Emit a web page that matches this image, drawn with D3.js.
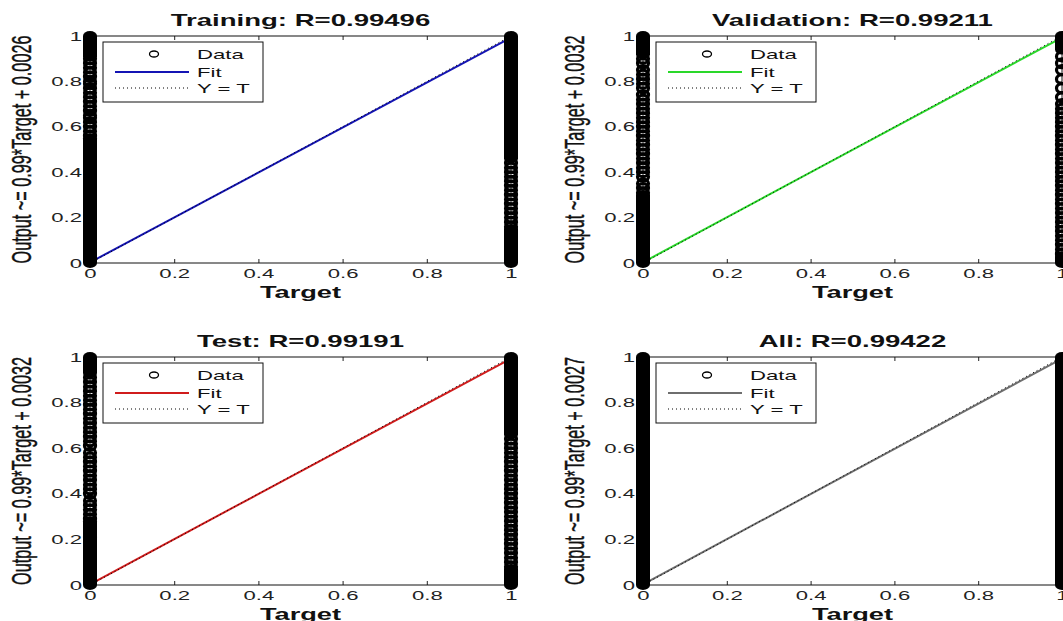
<!DOCTYPE html>
<html lang="en">
<head>
    <meta charset="UTF-8">
    <title>Regression plots</title>
    <script src="https://cdn.jsdelivr.net/npm/d3@7"></script>
    <style>
        body {
            margin: 0;
            background: #fff;
        }
        svg text {
            font-family: "Liberation Sans", Arial, sans-serif;
            fill: #111;
        }
        .tick text {
            font-size: 13px;
            fill: #222;
        }
    </style>
</head>
<body>
<div id="chart"></div>

<script>
    // panel texts
    const titles = ["Training: R=0.99496", "Validation: R=0.99211", "Test: R=0.99191", "All: R=0.99422"];
    const yLabels = [
        "Output ~= 0.99*Target + 0.0026",
        "Output ~= 0.99*Target + 0.0032",
        "Output ~= 0.99*Target + 0.0032",
        "Output ~= 0.99*Target + 0.0027"
    ];
    const legendLabels = ["Data", "Fit", "Y = T"];
    const ticks = [0, 0.2, 0.4, 0.6, 0.8, 1];

    // fit line coefficients, as printed on the y labels
    const fitSlope = [0.99, 0.99, 0.99, 0.99];
    const fitIntercept = [0.0026, 0.0032, 0.0032, 0.0027];
    const fitColors = ["#1414b4", "#2ad82a", "#d01c1c", "#6e6e6e"];

    // runs of output values so dense that the circles merge into a bar
    const denseAt0 = [
        [[0, 0.55], [0.91, 1]],
        [[0, 0.30], [0.92, 1]],
        [[0, 0.28], [0.93, 1]],
        [[0, 1]]
    ];
    const denseAt1 = [
        [[0, 0.15], [0.46, 1]],
        [[0, 0.03], [0.94, 1]],
        [[0, 0.07], [0.66, 1]],
        [[0, 1]]
    ];
    // single outputs where separate circles can still be seen
    const sparseAt0 = [
        [0.56, 0.58, 0.60, 0.62, 0.64, 0.65, 0.67, 0.69, 0.71, 0.73, 0.75, 0.77, 0.79, 0.80, 0.82, 0.84, 0.86, 0.88, 0.90],
        [0.31, 0.33, 0.35, 0.38, 0.40, 0.42, 0.44, 0.46, 0.48, 0.50, 0.52, 0.54, 0.56, 0.58, 0.60, 0.62, 0.64, 0.66,
            0.68, 0.70, 0.72, 0.74, 0.77, 0.79, 0.81, 0.83, 0.85, 0.88, 0.90],
        [0.21, 0.29, 0.31, 0.33, 0.35, 0.37, 0.40, 0.42, 0.44, 0.46, 0.48, 0.50, 0.52, 0.54, 0.56, 0.58, 0.61, 0.63,
            0.65, 0.67, 0.69, 0.71, 0.73, 0.75, 0.77, 0.79, 0.81, 0.83, 0.85, 0.87, 0.89, 0.91],
        []
    ];
    const sparseAt1 = [
        [0.16, 0.18, 0.20, 0.22, 0.24, 0.26, 0.28, 0.30, 0.32, 0.34, 0.36, 0.38, 0.40, 0.42, 0.44],
        [0.04, 0.06, 0.08, 0.10, 0.12, 0.14, 0.16, 0.18, 0.20, 0.22, 0.24, 0.26, 0.28, 0.30, 0.32, 0.34, 0.36, 0.38,
            0.40, 0.42, 0.44, 0.46, 0.48, 0.50, 0.52, 0.54, 0.56, 0.58, 0.60, 0.62, 0.64, 0.66, 0.68, 0.70, 0.73,
            0.77, 0.81, 0.85, 0.88, 0.91],
        [0.08, 0.10, 0.12, 0.14, 0.16, 0.18, 0.20, 0.22, 0.24, 0.26, 0.28, 0.30, 0.32, 0.34, 0.36, 0.38, 0.40, 0.42,
            0.44, 0.46, 0.48, 0.50, 0.52, 0.54, 0.56, 0.58, 0.60, 0.62, 0.64],
        []
    ];

    const width = 1063;
    const height = 621;
    const stretchX = 1.7; // the whole figure is wider than it is tall

    // pixel frame of each axes box
    const frames = [
        {x0: 90, x1: 511, top: 36, bottom: 263},
        {x0: 643, x1: 1062, top: 36, bottom: 263},
        {x0: 90, x1: 511, top: 357, bottom: 585},
        {x0: 643, x1: 1062, top: 357, bottom: 585}
    ];

    const svg = d3.select("#chart")
        .append("svg")
        .attr("width", width)
        .attr("height", height)
        .attr("viewBox", `0 0 ${width} ${height}`);

    // widen text to match the horizontal stretch of the figure
    function widen(sel, k) {
        sel.each(function () {
            const w = this.getComputedTextLength();
            this.setAttribute("textLength", w * k);
            this.setAttribute("lengthAdjust", "spacingAndGlyphs");
        });
    }

    frames.forEach((f, i) => {
        const x = d3.scaleLinear().domain([0, 1]).range([f.x0, f.x1]);
        const y = d3.scaleLinear().domain([0, 1]).range([f.bottom, f.top]);
        const g = svg.append("g");
        const fmt = d => String(d);

        // ticks point inwards on all four sides
        const bottomAxis = g.append("g")
            .attr("transform", `translate(0,${f.bottom})`)
            .call(d3.axisBottom(x).tickValues(ticks).tickFormat(fmt).tickSizeInner(-4).tickSizeOuter(0).tickPadding(6));
        g.append("g")
            .attr("transform", `translate(0,${f.top})`)
            .call(d3.axisTop(x).tickValues(ticks).tickFormat("").tickSizeInner(-4).tickSizeOuter(0));
        const leftAxis = g.append("g")
            .attr("transform", `translate(${f.x0},0)`)
            .call(d3.axisLeft(y).tickValues(ticks).tickFormat(fmt).tickSizeInner(-4).tickSizeOuter(0).tickPadding(8));
        g.append("g")
            .attr("transform", `translate(${f.x1},0)`)
            .call(d3.axisRight(y).tickValues(ticks).tickFormat("").tickSizeInner(-4).tickSizeOuter(0));
        g.selectAll(".domain").remove();
        g.selectAll(".tick line").attr("stroke", "#222");
        g.selectAll(".tick text").attr("font-family", null).attr("font-size", null);
        widen(bottomAxis.selectAll(".tick text"), stretchX);
        widen(leftAxis.selectAll(".tick text"), stretchX);

        g.append("rect")
            .attr("x", f.x0)
            .attr("y", f.top)
            .attr("width", f.x1 - f.x0)
            .attr("height", f.bottom - f.top)
            .attr("fill", "none")
            .attr("stroke", "#111")
            .attr("stroke-width", 1);

        // title and axis labels
        const title = g.append("text")
            .attr("x", (f.x0 + f.x1) / 2)
            .attr("y", f.top - 10)
            .attr("text-anchor", "middle")
            .attr("font-size", 17)
            .attr("font-weight", "bold")
            .text(titles[i]);
        widen(title, 1.62);

        const xl = g.append("text")
            .attr("x", (f.x0 + f.x1) / 2)
            .attr("y", f.bottom + 35)
            .attr("text-anchor", "middle")
            .attr("font-size", 16)
            .attr("font-weight", "bold")
            .text("Target");
        widen(xl, 1.7);

        g.append("g")
            .attr("transform", `translate(${f.x0 - 59},${(f.top + f.bottom) / 2}) scale(${stretchX},1)`)
            .append("text")
            .attr("transform", "rotate(-90)")
            .attr("text-anchor", "middle")
            .attr("font-size", 16)
            .attr("textLength", 228)
            .attr("lengthAdjust", "spacingAndGlyphs")
            .attr("stroke", "#111")
            .attr("stroke-width", 0.25)
            .text(yLabels[i]);

        // fit line and the identity line
        const line = d3.line().x(d => x(d[0])).y(d => y(d[1]));
        const fitAt = t => fitSlope[i] * t + fitIntercept[i];
        g.append("path")
            .attr("d", line([[0, fitAt(0)], [1, fitAt(1)]]))
            .attr("fill", "none")
            .attr("stroke", fitColors[i])
            .attr("stroke-width", 2);
        g.append("path")
            .attr("d", line([[0, 0], [1, 1]]))
            .attr("fill", "none")
            .attr("stroke", "#000")
            .attr("stroke-width", 1)
            .attr("stroke-dasharray", "1,3");

        // data circles: merged runs as bars, loose ones as rings
        const rx = 7, ry = 5;
        [[0, denseAt0[i]], [1, denseAt1[i]]].forEach(([t, runs]) => {
            g.append("g").selectAll("rect")
                .data(runs)
                .enter().append("rect")
                .attr("x", x(t) - rx)
                .attr("width", rx * 2)
                .attr("y", d => y(d[1]) - ry)
                .attr("height", d => y(d[0]) - y(d[1]) + ry * 2)
                .attr("rx", rx)
                .attr("ry", ry)
                .attr("fill", "#000");
        });
        [[0, sparseAt0[i]], [1, sparseAt1[i]]].forEach(([t, vals]) => {
            g.append("g").selectAll("ellipse")
                .data(vals)
                .enter().append("ellipse")
                .attr("cx", x(t))
                .attr("cy", d => y(d))
                .attr("rx", rx - 1.5)
                .attr("ry", ry - 0.5)
                .attr("fill", "none")
                .attr("stroke", "#000")
                .attr("stroke-width", 3.2);
        });

        // legend
        const lg = g.append("g").attr("transform", `translate(${f.x0 + 13},${f.top + 6})`);
        lg.append("rect")
            .attr("width", 160)
            .attr("height", 60)
            .attr("fill", "#fff")
            .attr("stroke", "#111");
        const rowY = [12, 30, 46];
        lg.append("ellipse")
            .attr("cx", 51)
            .attr("cy", rowY[0])
            .attr("rx", 4.5)
            .attr("ry", 3)
            .attr("fill", "none")
            .attr("stroke", "#000")
            .attr("stroke-width", 1.3);
        lg.append("line")
            .attr("x1", 12).attr("x2", 86)
            .attr("y1", rowY[1]).attr("y2", rowY[1])
            .attr("stroke", fitColors[i])
            .attr("stroke-width", 2);
        lg.append("line")
            .attr("x1", 12).attr("x2", 86)
            .attr("y1", rowY[2]).attr("y2", rowY[2])
            .attr("stroke", "#000")
            .attr("stroke-width", 1)
            .attr("stroke-dasharray", "1,3");
        const lt = lg.selectAll("text.item")
            .data(legendLabels)
            .enter().append("text")
            .attr("class", "item")
            .attr("x", 94)
            .attr("y", (d, j) => rowY[j] + 5)
            .attr("font-size", 13)
            .text(d => d);
        widen(lt, stretchX);
    });
</script>
</body>
</html>
